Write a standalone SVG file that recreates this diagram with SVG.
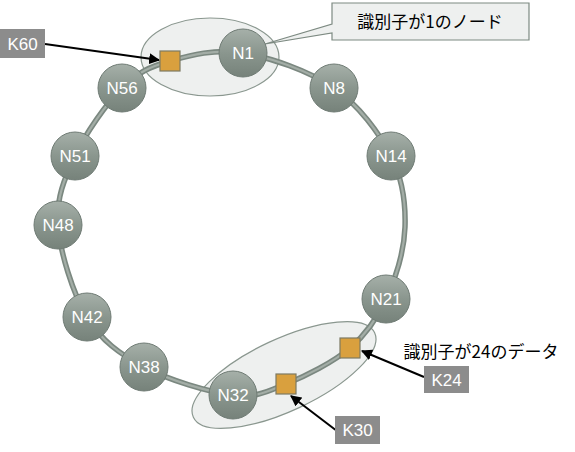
<svg xmlns="http://www.w3.org/2000/svg" width="575" height="452" viewBox="0 0 575 452">
<style>
.bg{fill:#ffffff}
.grp{fill:#eef0ef;stroke:#8a978f;stroke-width:1.2}
.ringo{fill:none;stroke:#7b8880;stroke-width:5.5}
.ringi{fill:none;stroke:#a3ada6;stroke-width:2.2}
.node{fill:url(#ng);stroke:#6f7b74;stroke-width:1}
.nt{font-family:"Liberation Sans","DejaVu Sans",sans-serif;font-size:17px;fill:#ffffff;text-anchor:middle}
.key{fill:#d9a03e;stroke:#7d7a62;stroke-width:1.2}
.kbox{fill:#8c8c8c}
.kt{font-family:"Liberation Sans","DejaVu Sans",sans-serif;font-size:17px;fill:#ffffff;text-anchor:middle}
.arr{stroke:#000000;stroke-width:2;fill:none;marker-end:url(#ah)}
.jp{font-family:"Noto Sans CJK JP","Noto Sans CJK SC",sans-serif;font-size:17px;fill:#000000;text-anchor:middle}
.call{fill:#eef0ef;stroke:#7d8a82;stroke-width:1.2}
</style>
<defs>
<linearGradient id="ng" x1="0" y1="0" x2="0" y2="1">
<stop offset="0" stop-color="#a6b0a9"/>
<stop offset="0.5" stop-color="#8a968e"/>
<stop offset="1" stop-color="#76827a"/>
</linearGradient>
<marker id="ah" viewBox="0 0 10 10" refX="9" refY="5" markerWidth="5.5" markerHeight="5.5" orient="auto" markerUnits="strokeWidth">
<path d="M0,0 L10,5 L0,10 Z" fill="#000000"/>
</marker>
</defs>
<rect class="bg" x="0" y="0" width="575" height="452"/>
<g id="groups">
<ellipse id="group-top" class="grp" cx="210" cy="57" rx="69" ry="39"/>
<ellipse id="group-bottom" class="grp" cx="284" cy="375" rx="100" ry="36" transform="rotate(-25 284 375)"/>
</g>
<g id="connectors">
<path id="ring-outer" class="ringo" d="M243,53 C270.3,57.5 309.3,70.8 334,88 C358.7,105.2 379.2,132.8 391,156 C402.8,179.2 405.8,203.2 405,227 C404.2,250.8 395.2,278.8 386,299 C376.8,319.2 366.7,333.8 350,348 C333.3,362.2 305.5,376.2 286,384 C266.5,391.8 256.7,397.8 233,395 C209.3,392.2 168.3,380 144,367 C119.7,354 101.3,340.7 87,317 C72.7,293.3 60,251.8 58,225 C56,198.2 64.3,178.8 75,156 C85.7,133.2 106.2,103.8 122,88 C137.8,72.2 149.8,66.8 170,61 C190.2,55.2 215.7,48.5 243,53 Z"/>
<path id="ring-inner" class="ringi" d="M243,53 C270.3,57.5 309.3,70.8 334,88 C358.7,105.2 379.2,132.8 391,156 C402.8,179.2 405.8,203.2 405,227 C404.2,250.8 395.2,278.8 386,299 C376.8,319.2 366.7,333.8 350,348 C333.3,362.2 305.5,376.2 286,384 C266.5,391.8 256.7,397.8 233,395 C209.3,392.2 168.3,380 144,367 C119.7,354 101.3,340.7 87,317 C72.7,293.3 60,251.8 58,225 C56,198.2 64.3,178.8 75,156 C85.7,133.2 106.2,103.8 122,88 C137.8,72.2 149.8,66.8 170,61 C190.2,55.2 215.7,48.5 243,53 Z"/>
<line id="arrow-k60" class="arr" x1="45" y1="44" x2="159" y2="60"/>
<line id="arrow-k24" class="arr" x1="424" y1="377" x2="362" y2="351"/>
<line id="arrow-k30" class="arr" x1="337" y1="431" x2="291" y2="396"/>
</g>
<g id="callout-node">
<path class="call" d="M332,3 H529 V40 H332 V33 L265,44 L332,24 Z"/>
<text class="jp" x="430" y="28">識別子が1のノード</text>
</g>
<g id="N1"><circle class="node" cx="243" cy="53" r="24"/><text class="nt" x="243" y="59">N1</text></g>
<g id="N8"><circle class="node" cx="334" cy="88" r="24"/><text class="nt" x="334" y="94">N8</text></g>
<g id="N14"><circle class="node" cx="391" cy="156" r="24"/><text class="nt" x="391" y="162">N14</text></g>
<g id="N21"><circle class="node" cx="386" cy="299" r="24"/><text class="nt" x="386" y="305">N21</text></g>
<g id="N32"><circle class="node" cx="233" cy="395" r="24"/><text class="nt" x="233" y="401">N32</text></g>
<g id="N38"><circle class="node" cx="144" cy="367" r="24"/><text class="nt" x="144" y="373">N38</text></g>
<g id="N42"><circle class="node" cx="87" cy="317" r="24"/><text class="nt" x="87" y="323">N42</text></g>
<g id="N48"><circle class="node" cx="58" cy="225" r="24"/><text class="nt" x="58" y="231">N48</text></g>
<g id="N51"><circle class="node" cx="75" cy="156" r="24"/><text class="nt" x="75" y="162">N51</text></g>
<g id="N56"><circle class="node" cx="122" cy="88" r="24"/><text class="nt" x="122" y="94">N56</text></g>
<g id="key-60"><rect class="key" x="160" y="51" width="20" height="20"/></g>
<g id="key-24"><rect class="key" x="340" y="338" width="20" height="20"/></g>
<g id="key-30"><rect class="key" x="276" y="374" width="20" height="20"/></g>
<g id="label-K60"><rect class="kbox" x="0" y="29" width="45" height="29"/><text class="kt" x="22.5" y="49.5">K60</text></g>
<g id="label-K24"><rect class="kbox" x="424" y="366" width="45" height="27"/><text class="kt" x="446.5" y="385.5">K24</text></g>
<g id="label-K30"><rect class="kbox" x="335" y="416" width="45" height="28"/><text class="kt" x="357.5" y="436">K30</text></g>
<g id="label-data"><text class="jp" x="481" y="358">識別子が24のデータ</text></g>
</svg>
